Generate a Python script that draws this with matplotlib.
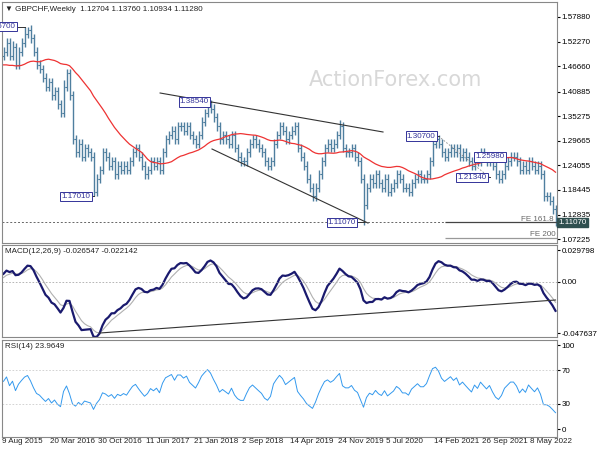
import numpy as np, pandas as pd
import matplotlib
matplotlib.use("Agg")
import matplotlib.pyplot as plt
plt.rcParams['font.family'] = ['Liberation Sans', 'DejaVu Sans']

# bi-weekly closes of GBPCHF, Aug 2015 .. Jul 2022
pre_closes = [1.53,1.52,1.52,1.51,1.50,1.50,1.49,1.47,1.45,1.46,1.48,1.50,1.47,1.38,
              1.35,1.40,1.44,1.45,1.46,1.47,1.46,1.47,1.47,1.49,1.50,1.48,1.49]
closes = [
1.50,1.52,1.49,1.51,1.47,1.50,1.52,1.54,1.55,1.53,
1.50,1.47,1.46,1.44,1.42,1.43,1.40,1.41,1.38,1.36,
1.42,1.45,1.40,1.30,1.27,1.29,1.26,1.28,1.27,1.26,
1.18,1.21,1.23,1.27,1.26,1.24,1.25,1.22,1.24,1.23,
1.24,1.23,1.25,1.27,1.28,1.26,1.24,1.22,1.23,1.25,
1.24,1.25,1.23,1.27,1.30,1.31,1.32,1.30,1.33,1.33,
1.32,1.33,1.31,1.30,1.29,1.31,1.34,1.36,1.38,1.37,
1.35,1.33,1.30,1.31,1.30,1.29,1.31,1.28,1.26,1.25,
1.25,1.27,1.29,1.30,1.29,1.28,1.27,1.25,1.24,1.25,
1.29,1.31,1.33,1.32,1.30,1.31,1.32,1.33,1.28,1.26,
1.24,1.21,1.19,1.17,1.19,1.22,1.25,1.28,1.29,1.28,
1.29,1.31,1.33,1.28,1.27,1.27,1.28,1.26,1.25,1.21,
1.15,1.19,1.21,1.20,1.22,1.20,1.19,1.21,1.18,1.19,
1.20,1.22,1.21,1.19,1.19,1.18,1.20,1.21,1.22,1.21,
1.21,1.22,1.25,1.29,1.30,1.29,1.27,1.26,1.27,1.28,
1.27,1.28,1.26,1.27,1.26,1.25,1.24,1.26,1.25,1.27,
1.26,1.25,1.26,1.24,1.22,1.21,1.22,1.24,1.25,1.26,
1.26,1.25,1.23,1.24,1.23,1.25,1.24,1.23,1.24,1.22,
1.17,1.17,1.16,1.14,1.113]
# wick extension above / below body, in 0.005 units
high_ext = ("2223222312 2222222222 3222222222 2222222222 2222222222 2222222222 "
            "2222222212 2222222222 2222222222 2222222222 2222222222 2232222222 "
            "2222222222 2222222222 2222122222 2222222222 2222222222 2222222222 22222")
low_ext = ("2222222222 2222222222 2222222222 2222222222 2222222222 2222222222 "
           "2222222222 2222222222 2222222222 2222222222 2222222222 2222222222 "
           "9222222222 2222222222 2222222222 2222222222 2222222222 2222222222 22222")
date_labels = ["9 Aug 2015","20 Mar 2016","30 Oct 2016","11 Jun 2017","21 Jan 2018",
               "2 Sep 2018","14 Apr 2019","24 Nov 2019","5 Jul 2020","14 Feb 2021",
               "26 Sep 2021","8 May 2022"]
price_ticks = [1.57880,1.52270,1.46660,1.40885,1.35275,1.29665,1.24055,1.18445,1.12835,1.07225]
pivots = [("1.55700",4.0,1.557,7),("1.17010",29,1.1701,30),("1.38540",68.5,1.3854,69),
          ("1.11070",117.5,1.1107,120),("1.30700",144,1.307,145),("1.21340",161,1.2134,162),
          ("1.25980",167,1.2598,165)]

he = np.array([int(ch) for ch in high_ext if ch.isdigit()]) * 0.005
le = np.array([int(ch) for ch in low_ext if ch.isdigit()]) * 0.005
c = np.array(closes); n = len(c)
o = np.r_[pre_closes[-1], c[:-1]]
hi = np.maximum(o, c) + he; lo = np.minimum(o, c) - le
x = np.arange(n)
allc = pd.Series(pre_closes + closes)
ma = allc.rolling(27).mean().values[-n:]
macd_full = allc.ewm(span=8, adjust=False).mean() - allc.ewm(span=16, adjust=False).mean()
sig_full = macd_full.ewm(span=5, adjust=False).mean()
macd = macd_full.values[-n:]; sig = sig_full.values[-n:]
d = allc.diff()
up = d.clip(lower=0).ewm(alpha=1/10, adjust=False).mean()
dn = (-d.clip(upper=0)).ewm(alpha=1/10, adjust=False).mean()
rsi = (100 - 100/(1+up/dn)).values[-n:]

fig = plt.figure(figsize=(6, 4.5), dpi=100)
FS = 5.8
L, W = 2/600, 555/600
ax1 = fig.add_axes([L, 1-243/450, W, 241/450])
ax2 = fig.add_axes([L, 1-337/450, W, 92/450])
ax3 = fig.add_axes([L, 1-437/450, W, 97/450])
bar_col = "#4f7f9f"
for ax in (ax1, ax2, ax3):
    ax.set_xlim(-0.5, n-0.5)
    ax.yaxis.tick_right()
    ax.tick_params(axis="y", labelsize=FS, length=2, pad=1.5)
    ax.tick_params(axis="x", length=0, labelbottom=False)
    for s in ax.spines.values():
        s.set_color("#888888"); s.set_linewidth(0.8)

ax1.vlines(x, lo, hi, color=bar_col, lw=1.0)
ax1.hlines(o, x-0.6, x, color=bar_col, lw=0.8)
ax1.hlines(c, x, x+0.6, color=bar_col, lw=0.8)
ax1.plot(x, ma, color="#ee3333", lw=0.9)
ax1.set_ylim(1.0635, 1.613)
ax1.set_yticks(price_ticks); ax1.set_yticklabels([f"{v:.5f}" for v in price_ticks])
ax1.axhline(1.1107, color="#666666", lw=0.7, ls=(0, (2, 2)))
ax1.plot([52.2, 126.5], [1.4055, 1.3166], color="#333333", lw=0.8)
ax1.plot([69.5, 121.5], [1.2778, 1.109], color="#333333", lw=0.8)
ax1.hlines(1.1107, 147, n-0.5, color="#444444", lw=0.9)
ax1.hlines(1.0755, 147, n-0.5, color="#999999", lw=0.9)
ax1.text(n-1.5, 1.1135, "FE 161.8", fontsize=FS, color="#666666", ha="right")
ax1.text(n-1, 1.0785, "FE 200", fontsize=FS, color="#666666", ha="right")
ax1.plot([145, 162], [1.307, 1.2134], color="#888888", lw=0.6, ls=(0, (2, 2)))
for lab, tx, ty, bi in pivots:
    ax1.plot([tx, bi], [ty, ty], color="#333333", lw=0.7)
    ax1.text(tx, ty, lab, fontsize=FS, color="#333399", ha="right", va="center",
             bbox=dict(boxstyle="square,pad=0.15", fc="white", ec="#333399", lw=0.7))
ax1.text(1.003, (1.1107-1.0635)/(1.613-1.0635), "1.11070", transform=ax1.transAxes,
         fontsize=FS, color="white", va="center", ha="left",
         bbox=dict(boxstyle="square,pad=0.15", fc="#2f4f4f", ec="#2f4f4f"))
ax1.text(0.005, 0.985, "\u25bc GBPCHF,Weekly  1.12704 1.13760 1.10934 1.11280",
         transform=ax1.transAxes, fontsize=FS, va="top", color="#222222",
         family=['DejaVu Sans'] if False else None)
fig.text(396/600, 1-80/450, "ActionForex.com", fontsize=15, color="#d8d8d8",
         ha="center", va="center", family="DejaVu Sans")

ax2.plot(x, sig, color="#b0b0b0", lw=0.8)
ax2.plot(x, macd, color="#1a1a6e", lw=1.6)
ax2.axhline(0, color="#aaaaaa", lw=0.6, ls=(0, (2, 2)))
ax2.plot([32, 184], [-0.0476, -0.0168], color="#333333", lw=0.8)
ax2.set_ylim(-0.0513, 0.0345)
ax2.set_yticks([0.029798, 0.0, -0.047637])
ax2.set_yticklabels(["0.029798", "0.00", "-0.047637"])
ax2.text(0.005, 0.97, "MACD(12,26,9) -0.026547 -0.022142", transform=ax2.transAxes,
         fontsize=FS, va="top", color="#222222")

ax3.plot(x, rsi, color="#3399ee", lw=0.7)
for v in (70, 30):
    ax3.axhline(v, color="#cccccc", lw=0.6, ls=(0, (2, 2)))
ax3.set_ylim(-9.5, 106)
ax3.set_yticks([100, 70, 30, 0])
ax3.text(0.005, 0.97, "RSI(14) 23.9649", transform=ax3.transAxes,
         fontsize=FS, va="top", color="#222222")
for k, lab in enumerate(date_labels):
    ax3.text(k*16 - 0.5, -0.015, lab, transform=ax3.get_xaxis_transform(),
             fontsize=FS, va="top", ha="left", color="#222222")

fig.savefig("out.png", dpi=100)
